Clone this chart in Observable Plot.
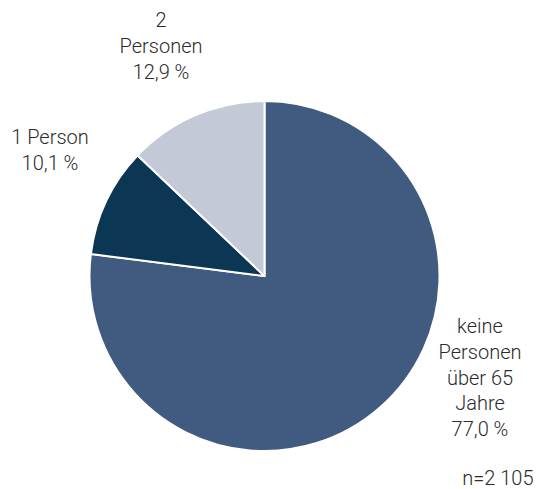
<!DOCTYPE html>
<html>
<head>
<meta charset="utf-8">
<script src="https://cdn.jsdelivr.net/npm/d3@7"></script>
<script src="https://cdn.jsdelivr.net/npm/@observablehq/plot@0.6"></script>
<style>
  html, body { margin: 0; padding: 0; background: #fff; }
</style>
</head>
<body>
<div id="chart"></div>
<script>
// Data
const categories = ["keine Personen über 65 Jahre", "1 Person", "2 Personen"];
const labelLines = [["keine", "Personen", "über 65", "Jahre"], ["1 Person"], ["2", "Personen"]];
const shares = [77.0, 10.1, 12.9];
const note = "n=2 105";

// Styles / layout
const colors = ["#405a80", "#0b3654", "#c4c9d7"];
const W = 538, H = 489;
const cx = 264.5, cy = 276, R = 175;
// label anchor offsets from pie centre (px)
const labelOffsets = [[215, 50], [-215, -139], [-104, -256]];
const lineH = 25.8;

const pie = d3.pie().sort(null).value(d => d.value)
  .startAngle(0).endAngle(2 * Math.PI);
const rows = categories.map((c, i) => ({category: c, value: shares[i], color: colors[i], lines: labelLines[i]}));
const arcs = pie(rows);
const arcGen = d3.arc().innerRadius(0).outerRadius(R);

const textRows = [];
rows.forEach((r, i) => {
  const lines = [...r.lines, d3.format(".1f")(r.value).replace(".", ",") + " %"];
  lines.forEach((t, j) => textRows.push({text: t, x: cx + labelOffsets[i][0], y: cy + labelOffsets[i][1] + j * lineH}));
});

const chart = Plot.plot({
  width: W,
  height: H,
  margin: 0,
  x: {domain: [0, W], range: [0, W], axis: null},
  y: {domain: [0, H], range: [0, H], axis: null},
  style: {fontFamily: "Roboto, 'Liberation Sans', sans-serif", background: "#fff"},
  marks: [
    (index, scales) => {
      const g = d3.create("svg:g")
        .attr("transform", `translate(${scales.x(cx)},${scales.y(cy)})`);
      g.selectAll("path").data(arcs).join("path")
        .attr("d", arcGen)
        .attr("fill", d => d.data.color)
        .attr("stroke", "#fff")
        .attr("stroke-width", 2)
        .attr("stroke-linejoin", "round");
      return g.node();
    },
    Plot.text(textRows, {x: "x", y: "y", text: "text", fontSize: 20, fontWeight: 300, fill: "#2b2b2b", textAnchor: "middle"}),
    Plot.text([note], {x: W - 5, y: 478, text: d => d, fontSize: 20, fontWeight: 300, fill: "#2b2b2b", textAnchor: "end"})
  ]
});
document.getElementById("chart").appendChild(chart);
</script>
</body>
</html>
